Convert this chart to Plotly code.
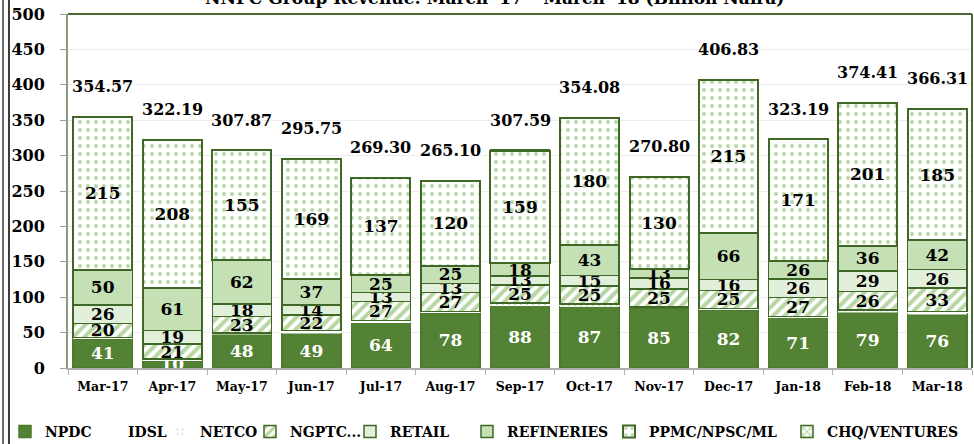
import plotly.graph_objects as go

months = ["Mar-17", "Apr-17", "May-17", "Jun-17", "Jul-17", "Aug-17", "Sep-17",
          "Oct-17", "Nov-17", "Dec-17", "Jan-18", "Feb-18", "Mar-18"]

npdc = [41, 10, 48, 49, 64, 78, 88, 87, 85, 82, 71, 79, 76]
idsl = [0.4, 0.5, 0.3, 0.6, 0.4, 0.3, 0.5, 0.5, 0.3, 0.4, 0.3, 0.5, 0.5]
netco = [1.6, 2.2, 1.1, 3.5, 2.4, 1.4, 3.6, 3.1, 1.1, 1.9, 1.5, 2.4, 3.3]
ngptc = [20, 21, 23, 22, 27, 27, 25, 25, 25, 25, 27, 26, 33]
retail = [26, 19, 18, 14, 13, 13, 13, 15, 16, 16, 26, 29, 26]
refineries = [50, 61, 62, 37, 25, 25, 18, 43, 13, 66, 26, 36, 42]
ppmc = [215, 208, 155, 169, 137, 120, 159, 180, 130, 215, 171, 201, 185]
chq = [0.5, 0.5, 0.5, 0.6, 0.5, 0.4, 0.5, 0.5, 0.4, 0.5, 0.4, 0.5, 0.5]
totals = [354.57, 322.19, 307.87, 295.75, 269.30, 265.10, 307.59,
          354.08, 270.80, 406.83, 323.19, 374.41, 366.31]

title_text = "NNPC Group Revenue: March '17 – March '18 (Billion Naira)"

FONT = "DejaVu Serif"
DARK = "#3f6826"
GREEN = "#70ad47"

W, H = 974, 444
# left pixel position of each legend entry (one legend per series)
legend_px = [5, 88, 160, 250, 350, 467, 609, 787]

fig = go.Figure()
series_count = [0]


def add(name, vals, fill, line_color=DARK, line_w=1.5, pattern=None, label=True, txtcolor="black"):
    idx = series_count[0]
    series_count[0] += 1
    lg = "legend" if idx == 0 else f"legend{idx + 1}"
    kw = {}
    if label:
        kw.update(text=[f"{v:.0f}" for v in vals], textposition="inside",
                  insidetextanchor="middle", textangle=0, constraintext="none",
                  textfont=dict(family=FONT, size=17, color=txtcolor, weight="bold"))
    marker = dict(color=fill, line=dict(color=line_color, width=line_w))
    if pattern:
        marker["pattern"] = pattern
    fig.add_trace(go.Bar(name=name, x=months, y=vals, marker=marker, legend=lg, **kw))
    fig.update_layout({lg: dict(orientation="h", xref="container", yref="container",
                                x=legend_px[idx] / W, y=(H - 432) / H,
                                xanchor="left", yanchor="middle",
                                bgcolor="rgba(0,0,0,0)",
                                font=dict(family=FONT, size=14, color="black", weight="bold"),
                                itemclick=False, itemdoubleclick=False)})


add("NPDC", npdc, "#548235", line_color="#4a7a2c", txtcolor="white")
add("IDSL", idsl, "white", line_color="white", line_w=0.5, label=False)
add("NETCO", netco, "white", line_color="white", line_w=0.5, label=False,
    pattern=dict(shape=".", fgcolor=GREEN, bgcolor="white", size=6, solidity=0.1))
add("NGPTC...", ngptc, "white",
    pattern=dict(shape="/", fgcolor=GREEN, bgcolor="white", size=8, solidity=0.5))
add("RETAIL", retail, "#e2efda")
add("REFINERIES", refineries, "#c5e0b4")
add("PPMC/NPSC/ML", ppmc, "white", line_w=2,
    pattern=dict(shape=".", fgcolor=GREEN, bgcolor="white", size=8, solidity=0.2))
add("CHQ/VENTURES", chq, "white", label=False,
    pattern=dict(shape="x", fgcolor=GREEN, bgcolor="white", size=6, solidity=0.4))

for m, t in zip(months, totals):
    fig.add_annotation(x=m, y=t, text=f"{t:.2f}", showarrow=False, yshift=30,
                       font=dict(family=FONT, size=16, color="black", weight="bold"))

# clipped title at top
fig.add_annotation(text=title_text, xref="paper", yref="paper", x=0.472, y=1.011,
                   yanchor="bottom", showarrow=False,
                   font=dict(family=FONT, size=17, color="black", weight="bold"))

# plot frame lines (top & right), outer double line at left
fig.add_shape(type="line", xref="paper", yref="paper", x0=0, x1=1, y0=1, y1=1,
              line=dict(color="#4a6b30", width=2))
fig.add_shape(type="line", xref="paper", yref="paper", x0=1, x1=1, y0=0, y1=1,
              line=dict(color="#4a6b30", width=2))
fig.add_shape(type="line", xref="paper", yref="paper", x0=-0.0719, x1=-0.0719, y0=-0.3, y1=1.1,
              line=dict(color="#3a3a3a", width=1.5))
fig.add_shape(type="line", xref="paper", yref="paper", x0=-0.0653, x1=-0.0653, y0=-0.3, y1=1.1,
              line=dict(color="#3a3a3a", width=2))

fig.update_layout(
    width=W, height=H,
    barmode="stack", bargap=0.15,
    margin=dict(l=68, r=2, t=14, b=76),
    paper_bgcolor="white", plot_bgcolor="white",
    font=dict(family=FONT, color="black"),
    showlegend=True,
    yaxis=dict(range=[0, 500], dtick=50, showgrid=True, gridcolor="#ececec", gridwidth=1,
               showline=True, linecolor="#8a9a7e", linewidth=2,
               ticks="outside", ticklen=6, tickcolor="#a0a0a0", ticklabelstandoff=12,
               tickfont=dict(family=FONT, size=16, color="black", weight="bold"),
               zeroline=False),
    xaxis=dict(showline=True, linecolor="#b0b0b0", linewidth=1.5,
               ticks="outside", ticklen=5, tickcolor="#b0b0b0", tickson="boundaries",
               ticklabelstandoff=6,
               tickfont=dict(family=FONT, size=12.5, color="black", weight="bold")),
)

fig.write_html("out.html", config={"displayModeBar": False},
               post_script="document.body.style.margin='0';")
